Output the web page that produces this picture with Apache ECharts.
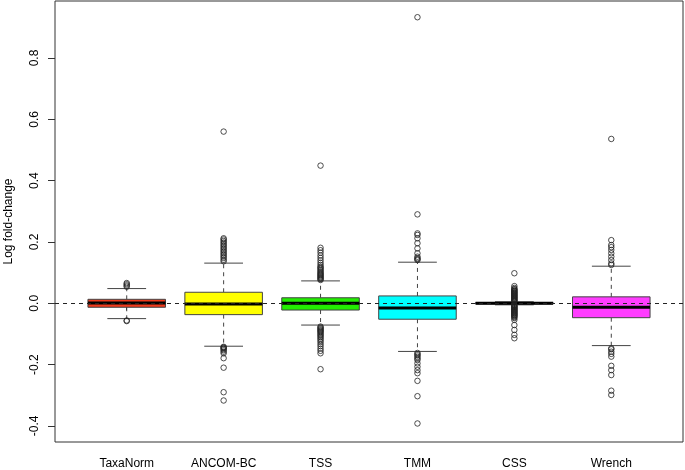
<!DOCTYPE html>
<html>
<head>
<meta charset="utf-8">
<script src="https://cdn.jsdelivr.net/npm/echarts@6/dist/echarts.min.js"></script>
<style>
html,body{margin:0;padding:0;background:#fff;}
#chart{width:685px;height:470px;}
</style>
</head>
<body>
<div id="chart"></div>
<script>
// ---- data ----
const categories = ['TaxaNorm', 'ANCOM-BC', 'TSS', 'TMM', 'CSS', 'Wrench'];
const lowerWhisker = [-0.050, -0.140, -0.071, -0.157, -0.005, -0.138];
const q1Values     = [-0.013, -0.037, -0.022, -0.052, -0.002, -0.047];
const medianValues = [0.001, -0.002, 0.000, -0.015, 0.000, -0.013];
const q3Values     = [0.013, 0.036, 0.018, 0.024, 0.002, 0.021];
const upperWhisker = [0.048, 0.131, 0.073, 0.134, 0.005, 0.121];

const outTaxaNorm = [0.054, 0.058, 0.062, 0.066, -0.056, -0.058];
const outAncomBC = [0.137, 0.142, 0.148, 0.153, 0.158, 0.163, 0.168, 0.173, 0.178, 0.183, 0.188, 0.193, 0.198, 0.203, 0.208, 0.212, 0.560,
  -0.142, -0.144, -0.146, -0.149, -0.153, -0.158, -0.163, -0.179, -0.210, -0.290, -0.317];
const outTSS = [0.076, 0.079, 0.082, 0.085, 0.088, 0.091, 0.094, 0.097, 0.100, 0.104, 0.108, 0.112, 0.116, 0.119, 0.125, 0.132, 0.140, 0.148, 0.156, 0.165, 0.173, 0.181, 0.449,
  -0.076, -0.079, -0.082, -0.085, -0.088, -0.091, -0.094, -0.098, -0.102, -0.106, -0.110, -0.115, -0.120, -0.126, -0.133, -0.140, -0.148, -0.155, -0.163, -0.215];
const outTMM = [0.141, 0.144, 0.147, 0.152, 0.163, 0.179, 0.196, 0.212, 0.223, 0.228, 0.290, 0.933,
  -0.162, -0.166, -0.170, -0.175, -0.180, -0.185, -0.196, -0.207, -0.218, -0.228, -0.253, -0.303, -0.392];
const outCSS = [0.006, 0.008, 0.010, 0.012, 0.014, 0.016, 0.018, 0.020, 0.022, 0.024, 0.026, 0.028, 0.030, 0.032, 0.034, 0.036, 0.038, 0.040, 0.042, 0.045, 0.046, 0.050, 0.056, 0.098,
  -0.006, -0.008, -0.010, -0.012, -0.014, -0.016, -0.018, -0.020, -0.022, -0.024, -0.026, -0.028, -0.030, -0.032, -0.034, -0.036, -0.038, -0.040, -0.042, -0.045, -0.048, -0.054, -0.071, -0.087, -0.103, -0.114];
const outWrench = [0.125, 0.130, 0.141, 0.152, 0.163, 0.174, 0.183, 0.190, 0.206, 0.536,
  -0.147, -0.150, -0.158, -0.165, -0.174, -0.204, -0.218, -0.234, -0.285, -0.299];
const outliers = [outTaxaNorm, outAncomBC, outTSS, outTMM, outCSS, outWrench];

const yTickValues = [-0.4, -0.2, 0.0, 0.2, 0.4, 0.6, 0.8];
const xTickValues = [1, 2, 3, 4, 5, 6];

// ---- styles ----
const boxColors = ['#f03a1c', '#ffff00', '#22ee00', '#00ffff', '#0000ff', '#ff3cff'];
const lineGray = '#444';

const boxData = categories.map((c, i) => [i + 1, lowerWhisker[i], q1Values[i], medianValues[i], q3Values[i], upperWhisker[i], i]);
const outlierData = [];
outliers.forEach((arr, i) => arr.forEach(v => outlierData.push([i + 1, v])));

function renderBox(params, api) {
  const x = api.value(0);
  const lo = api.value(1), q1 = api.value(2), md = api.value(3), q3 = api.value(4), hi = api.value(5);
  const ci = api.value(6);
  const half = 0.4, stap = 0.2;
  const pL = api.coord([x - half, q3]);
  const pR = api.coord([x + half, q1]);
  const cx = api.coord([x, 0])[0];
  const yHi = api.coord([x, hi])[1], yLo = api.coord([x, lo])[1];
  const yQ3 = api.coord([x, q3])[1], yQ1 = api.coord([x, q1])[1], yMd = api.coord([x, md])[1];
  const sL = api.coord([x - stap, 0])[0], sR = api.coord([x + stap, 0])[0];
  return {
    type: 'group',
    children: [
      { type: 'line', shape: { x1: cx, y1: yQ3, x2: cx, y2: yHi }, style: { stroke: lineGray, lineWidth: 1, lineDash: [4, 4] } },
      { type: 'line', shape: { x1: cx, y1: yQ1, x2: cx, y2: yLo }, style: { stroke: lineGray, lineWidth: 1, lineDash: [4, 4] } },
      { type: 'line', shape: { x1: sL, y1: yHi, x2: sR, y2: yHi }, style: { stroke: lineGray, lineWidth: 1 } },
      { type: 'line', shape: { x1: sL, y1: yLo, x2: sR, y2: yLo }, style: { stroke: lineGray, lineWidth: 1 } },
      { type: 'rect', shape: { x: pL[0], y: yQ3, width: pR[0] - pL[0], height: yQ1 - yQ3 }, style: { fill: boxColors[ci], stroke: lineGray, lineWidth: 1 } },
      { type: 'line', shape: { x1: pL[0], y1: yMd, x2: pR[0], y2: yMd }, style: { stroke: '#000', lineWidth: 3 } }
    ]
  };
}

const chart = echarts.init(document.getElementById('chart'), null, { renderer: 'canvas' });
chart.setOption({
  animation: false,
  backgroundColor: '#fff',
  grid: { left: 55, right: 2, top: 1, bottom: 28, show: true, borderColor: '#333', borderWidth: 1, backgroundColor: 'transparent',
          containLabel: false, outerBoundsMode: 'none' },
  xAxis: {
    type: 'value', min: 0.26, max: 6.74,
    axisLine: { show: false },
    splitLine: { show: false },
    axisTick: { show: true, length: 7, customValues: xTickValues, lineStyle: { color: '#333' } },
    axisLabel: {
      customValues: xTickValues, margin: 16, color: '#000', fontSize: 12,
      fontFamily: 'Liberation Sans, Arial, sans-serif',
      formatter: v => categories[Math.round(v) - 1] || ''
    }
  },
  yAxis: {
    type: 'value', min: -0.4524, max: 0.9859,
    name: 'Log fold-change', nameLocation: 'middle', nameRotate: 90, nameGap: 40,
    nameTextStyle: { color: '#000', fontSize: 12, fontFamily: 'Liberation Sans, Arial, sans-serif' },
    axisLine: { show: false },
    splitLine: { show: false },
    axisTick: { show: true, length: 7, customValues: yTickValues, lineStyle: { color: '#333' } },
    axisLabel: {
      customValues: yTickValues, rotate: 90, margin: 14, color: '#000', fontSize: 12,
      fontFamily: 'Liberation Sans, Arial, sans-serif',
      formatter: v => v.toFixed(1)
    }
  },
  series: [
    {
      type: 'custom', renderItem: renderBox, data: boxData,
      encode: { x: 0, y: [1, 2, 3, 4, 5] }, z: 2
    },
    {
      type: 'scatter', data: outlierData, symbol: 'circle', symbolSize: 5.5,
      itemStyle: { color: 'transparent', borderColor: '#222', borderWidth: 1 }, z: 3,
      markLine: {
        silent: true, symbol: ['none', 'none'], label: { show: false },
        lineStyle: { color: '#222', width: 1, type: [4, 4] },
        data: [{ yAxis: 0 }]
      }
    }
  ]
});
</script>
</body>
</html>
